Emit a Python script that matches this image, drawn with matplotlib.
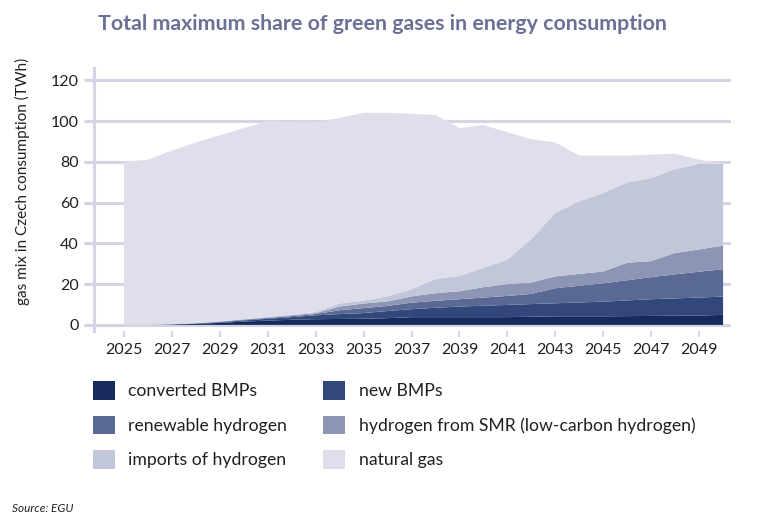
import matplotlib
matplotlib.use("Agg")
import matplotlib.pyplot as plt
import numpy as np

plt.rcParams['font.family'] = ['Lato', 'DejaVu Sans']

years = np.arange(2025, 2051)

# TWh per source
converted_bmp = [0, 0, 0.2, 0.5, 1.0, 1.6, 2.1, 2.5, 2.8, 2.9, 3.0, 3.3, 3.8,
                 3.8, 3.8, 3.8, 3.8, 4.0, 4.2, 4.2, 4.2, 4.3, 4.4, 4.5, 4.6, 4.9]
new_bmp = [0, 0, 0.1, 0.2, 0.3, 0.6, 0.9, 1.3, 1.9, 2.4, 2.8, 3.5, 3.9,
           4.6, 5.2, 5.6, 6.0, 6.2, 6.4, 6.8, 7.2, 7.7, 8.2, 8.5, 8.8, 9.0]
renewable_h2 = [0, 0, 0, 0.1, 0.2, 0.3, 0.4, 0.5, 0.6, 1.9, 2.4, 2.5, 3.2,
                3.4, 3.6, 4.0, 4.4, 5.0, 7.4, 8.2, 9.0, 9.9, 10.8, 11.8, 12.7, 13.4]
smr_h2 = [0, 0, 0, 0, 0.1, 0.2, 0.3, 0.4, 0.5, 1.8, 2.3, 2.2, 3.1,
          3.7, 3.9, 5.1, 5.8, 5.6, 5.8, 5.8, 5.8, 8.6, 7.9, 10.5, 10.9, 11.6]
imports_h2 = [0, 0, 0, 0, 0.1, 0.1, 0.2, 0.3, 0.5, 1.5, 1.4, 2.5, 3.5,
              7.0, 7.5, 9.5, 12.0, 21.2, 31.2, 35.6, 38.5, 39.4, 40.7, 41.1, 42.0, 40.1]
natural_gas = [80, 81, 85.2, 88.7, 91.3, 93.7, 96.1, 94.5, 93.2, 91.0, 92.1, 90.0, 86.0,
               80.5, 72.5, 70.0, 62.5, 49.0, 34.5, 22.4, 18.3, 13.1, 11.5, 7.6, 2.0, 0.3]

labels = ['converted BMPs', 'new BMPs', 'renewable hydrogen',
          'hydrogen from SMR (low-carbon hydrogen)', 'imports of hydrogen', 'natural gas']
colors = ['#142b5c', '#33487a', '#5a6894', '#8d95b5', '#c2c6d9', '#dedfeb']
grid_col = '#d4d4e4'
text_col = '#231f20'

fig = plt.figure(figsize=(7.6, 5.24), dpi=100)
ax = fig.add_axes([94 / 760, 1 - 331 / 524, 637 / 760, 263 / 524])

polys = ax.stackplot(years, converted_bmp, new_bmp, renewable_h2, smr_h2,
                     imports_h2, natural_gas, colors=colors, linewidth=0, zorder=3)

ax.set_xlim(2023.75, 2050.33)
ax.set_ylim(-3, 126)
for v in range(0, 121, 20):
    ax.axhline(v, color=grid_col, lw=2.2, zorder=1)

for s in ['top', 'right', 'bottom']:
    ax.spines[s].set_visible(False)
ax.spines['left'].set_color(grid_col)
ax.spines['left'].set_linewidth(2.2)

ax.set_yticks(range(0, 121, 20))
ax.set_xticks(range(2025, 2050, 2))
ax.tick_params(axis='y', length=7, width=2.2, color=grid_col, labelsize=11.5,
               labelcolor=text_col, pad=4)
ax.tick_params(axis='x', length=4, width=1.5, color=grid_col, labelsize=11.5,
               labelcolor=text_col, pad=5)

fig.text(382, 524 - 24, 'Total maximum share of green gases in energy consumption',
         transform=None, ha='center', va='center', fontsize=15.4, fontweight='bold',
         color='#6b7196')
fig.text(22, 524 - 181, 'gas mix in Czech consumption (TWh)', transform=None,
         rotation=90, ha='center', va='center', fontsize=11, color=text_col)

order = [0, 2, 4, 1, 3, 5]
fig.legend([polys[i] for i in order], [labels[i] for i in order],
           loc='upper left', bbox_to_anchor=(93 / 760, 1 - 381 / 524), ncol=2,
           frameon=False, fontsize=12.7, handlelength=1.25, handleheight=1.25,
           handletextpad=0.75, columnspacing=2.05, labelspacing=0.9,
           borderpad=0, borderaxespad=0, labelcolor=text_col)

fig.text(12, 524 - 508, 'Source: EGU', transform=None, fontsize=8.5,
         style='italic', color=text_col, va='center')

fig.savefig('out.png', dpi=100)
